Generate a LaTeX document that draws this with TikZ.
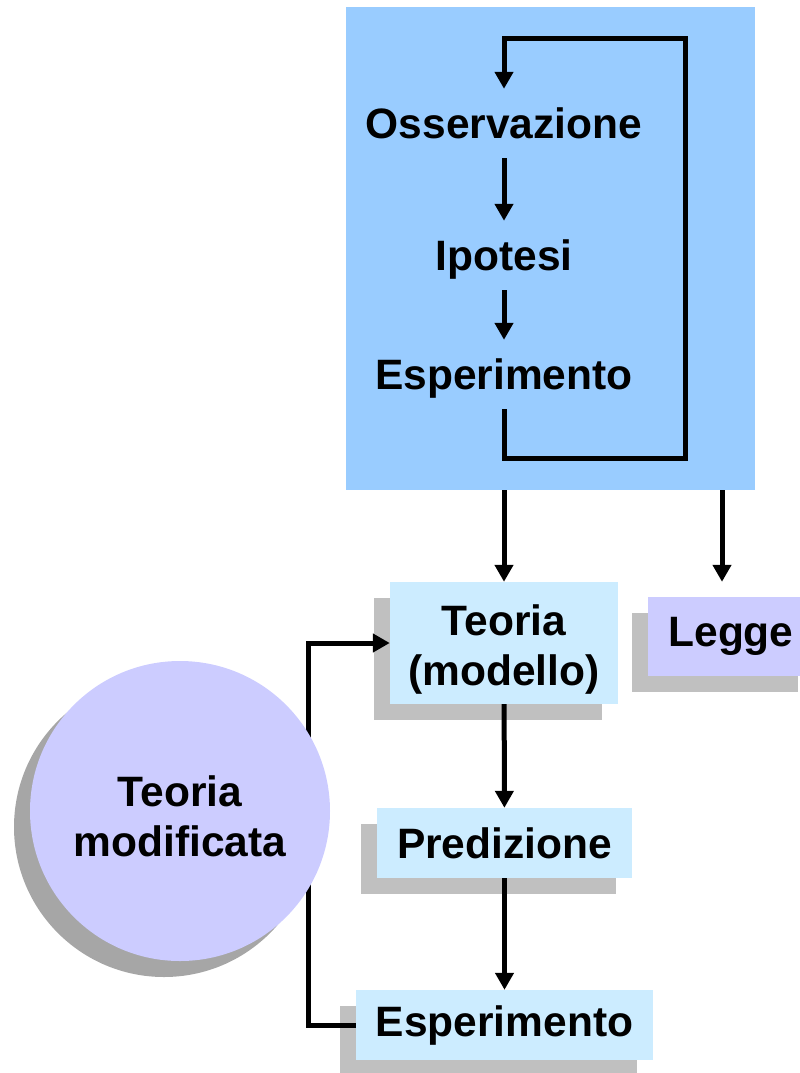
\documentclass[tikz,border=0pt]{standalone}
\usepackage{fontspec}
\setmainfont{Liberation Sans}
\usetikzlibrary{arrows.meta}
\usetikzlibrary{shadows}
\definecolor{loopblue}{HTML}{99CCFF}
\definecolor{paleblue}{HTML}{CCECFF}
\definecolor{lilac}{HTML}{CCCCFF}
\definecolor{boxshade}{HTML}{C0C0C0}
\definecolor{ballshade}{HTML}{A6A6A6}

\begin{document}
\begin{tikzpicture}[x=1pt,y=-1pt,
  every node/.style={font=\fontsize{42.5}{50}\selectfont\bfseries},
  word/.style={text height=29pt,text depth=0pt,inner xsep=0pt,inner ysep=20pt,anchor=base},
  card/.style={fill=#1,align=center,inner sep=0pt,
    general shadow={fill=boxshade,shadow xshift=-16pt,shadow yshift=-16pt}},
  arr/.style={line width=5pt,-{Triangle[length=17pt,width=18pt]}}]
  \useasboundingbox (0,0) rectangle (800,1073);
  % the observation loop
  \node[fill=loopblue,inner sep=0pt,minimum width=409pt,minimum height=483pt] (loopbox) at (550.5,248.5) {};
  \node[word] (osserv) at (504,138) {Osservazione};
  \node[word] (ipotesi) at (504,270) {Ipotesi};
  \node[word] (esp1) at (504,389) {Esperimento};
  \coordinate (loopbot) at (685,458);
  \coordinate (looptop) at (685,39);
  \draw[arr] (osserv) -- (ipotesi);
  \draw[arr] (ipotesi) -- (esp1);
  \draw[arr] (esp1.south) |- (loopbot) -- (looptop) -| (osserv.north);
  % theory chain
  \node[card=paleblue,minimum width=228pt,minimum height=122pt,text height=93pt] (teoria) at (504,643) {Teoria\\(modello)};
  \node[card=lilac,minimum width=166pt,minimum height=79pt] (legge) at (731,636.5) {Legge};
  \node[card=paleblue,minimum width=255pt,minimum height=70pt] (pred) at (504.5,843) {Predizione};
  \node[card=paleblue,minimum width=297pt,minimum height=70pt] (esp2) at (504.5,1025) {Esperimento};
  \coordinate (lawdrop) at (722,490);
  \coordinate (back) at (308,1025);
  \draw[arr] (loopbox.south -| teoria.north) -- (teoria.north);
  \draw[arr,shorten >=15pt] (lawdrop) -- (lawdrop |- legge.north);
  \draw[arr] (teoria) -- (pred);
  \draw[arr] (pred) -- (esp2);
  \draw[arr] (esp2.west) -| (back) |- (teoria.west);
  % modified theory sits over the return line
  \node[circle,fill=lilac,align=center,inner sep=0pt,minimum size=300pt,text height=92pt,
    general shadow={fill=ballshade,shadow xshift=-16pt,shadow yshift=-16pt}] (nuova) at (180,811) {Teoria\\modificata};
\end{tikzpicture}
\end{document}
